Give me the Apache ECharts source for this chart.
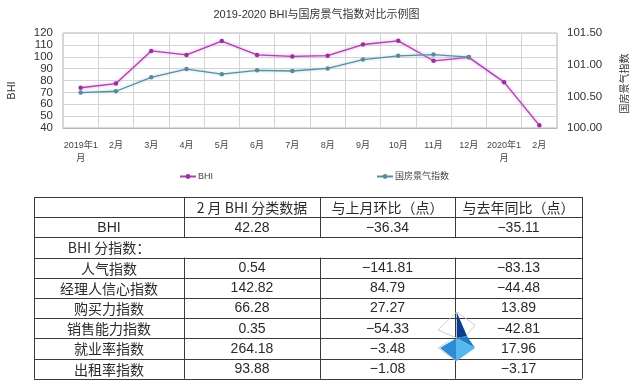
<!DOCTYPE html>
<html>
<head>
<meta charset="utf-8">
<script src="https://cdn.jsdelivr.net/npm/echarts@6/dist/echarts.min.js"></script>
<style>
html,body{margin:0;padding:0;background:#fff;}
#main{width:633px;height:383px;}
</style>
</head>
<body>
<div id="main"></div>
<script>
// ---- chart data ----
var titleText = '2019-2020 BHI与国房景气指数对比示例图';
var categories = ['2019年1月','2月','3月','4月','5月','6月','7月','8月','9月','10月','11月','12月','2020年1月','2月'];
var bhiValues = [73.9, 77.39, 104.9, 101.5, 113.2, 101.5, 100.3, 100.9, 110.3, 113.4, 96.6, 99.5, 78.62, 42.28];
var guofangValues = [100.56, 100.58, 100.80, 100.93, 100.85, 100.91, 100.90, 100.94, 101.08, 101.14, 101.16, 101.12, null, null];
var leftTicks = {min: 40, max: 120, interval: 10};
var rightTicks = {min: 100, max: 101.5, interval: 0.5};

// ---- table data ----
var tableHeader = ['', '2 月 BHI 分类数据', '与上月环比（点）', '与去年同比（点）'];
var rowLabels = ['BHI', 'BHI 分指数：', '人气指数', '经理人信心指数', '购买力指数', '销售能力指数', '就业率指数', '出租率指数'];
var febValues = [42.28, null, 0.54, 142.82, 66.28, 0.35, 264.18, 93.88];
var momValues = [-36.34, null, -141.81, 84.79, 27.27, -54.33, -3.48, -1.08];
var yoyValues = [-35.11, null, -83.13, -44.48, 13.89, -42.81, 17.96, -3.17];

// ---- table layout ----
var colX = [34, 184, 320, 455, 582];
var tableTop = 197;
var rowH = 20.2;
var lineColor = '#3a3a3a';
var textColor = '#2a2a2a';
var cjkFont = '"Noto Sans CJK SC", sans-serif';
var numFont = '"Liberation Sans", Arial, sans-serif';

function fmt(v) {
  if (v === null || v === undefined) return '';
  var s = Math.abs(v).toFixed(2);
  return (v < 0 ? '\u2212' : '') + s;
}
function px(v) { return Math.round(v) + 0.5; }

var graphics = [];
var nRows = rowLabels.length + 1;
var tableBottom = tableTop + nRows * rowH;
for (var r = 0; r <= nRows; r++) {
  var y = px(tableTop + r * rowH);
  graphics.push({type: 'line', silent: true, shape: {x1: colX[0], y1: y, x2: colX[colX.length - 1], y2: y}, style: {stroke: lineColor, lineWidth: 1}});
}
for (var c = 0; c < colX.length; c++) {
  var x = px(colX[c]);
  if (c === 0 || c === colX.length - 1) {
    graphics.push({type: 'line', silent: true, shape: {x1: x, y1: tableTop, x2: x, y2: tableBottom}, style: {stroke: lineColor, lineWidth: 1}});
  } else {
    graphics.push({type: 'line', silent: true, shape: {x1: x, y1: tableTop, x2: x, y2: tableTop + 2 * rowH}, style: {stroke: lineColor, lineWidth: 1}});
    graphics.push({type: 'line', silent: true, shape: {x1: x, y1: tableTop + 3 * rowH, x2: x, y2: tableBottom}, style: {stroke: lineColor, lineWidth: 1}});
  }
}
function cellText(text, col, row, font) {
  var cx = (colX[col] + colX[col + 1]) / 2;
  var cy = tableTop + row * rowH + rowH / 2 + 0.5;
  graphics.push({type: 'text', silent: true, style: {text: text, x: cx, y: cy, textAlign: 'center', textVerticalAlign: 'middle', align: 'center', verticalAlign: 'middle', fill: textColor, font: font}});
}
for (var h = 1; h < tableHeader.length; h++) cellText(tableHeader[h], h, 0, '14px ' + cjkFont);
for (var i = 0; i < rowLabels.length; i++) {
  var isAscii = /^[A-Za-z]+$/.test(rowLabels[i]);
  cellText(rowLabels[i], 0, i + 1, (isAscii ? '14px ' + numFont : '14px ' + cjkFont));
  if (febValues[i] !== null) {
    cellText(fmt(febValues[i]), 1, i + 1, '14px ' + numFont);
    cellText(fmt(momValues[i]), 2, i + 1, '14px ' + numFont);
    cellText(fmt(yoyValues[i]), 3, i + 1, '14px ' + numFont);
  }
}
// decorative watermark logo
graphics.push({type: 'polyline', silent: true, shape: {points: [[456.7, 312], [438, 330], [456.7, 338]]}, style: {stroke: '#d0d0d0', lineWidth: 1, fill: null}});
graphics.push({type: 'polyline', silent: true, shape: {points: [[456.7, 312], [475, 325], [467, 335]]}, style: {stroke: '#d0d0d0', lineWidth: 1, fill: null}});
graphics.push({type: 'polyline', silent: true, shape: {points: [[449, 341], [438, 348], [456.7, 361]]}, style: {stroke: '#d0d0d0', lineWidth: 1, fill: null}});
graphics.push({type: 'polygon', silent: true, shape: {points: [[456.7, 312], [467, 336], [456.7, 338]]}, style: {fill: '#0b3d8c'}});
graphics.push({type: 'polygon', silent: true, shape: {points: [[456.7, 338], [467, 336], [475, 348]]}, style: {fill: '#1f7cc6'}});
graphics.push({type: 'polygon', silent: true, shape: {points: [[440, 348], [456.7, 338], [456.7, 361]]}, style: {fill: '#2a8dd6'}});
graphics.push({type: 'polygon', silent: true, shape: {points: [[456.7, 338], [475, 348], [456.7, 361]]}, style: {fill: '#56b9ee'}});

var chartFont = '"Liberation Sans", Arial, "Noto Sans CJK SC", sans-serif';
var chart = echarts.init(document.getElementById('main'), null, {renderer: 'canvas'});
chart.setOption({
  backgroundColor: '#ffffff',
  animation: false,
  textStyle: {fontFamily: chartFont},
  title: {
    text: titleText, left: 'center', top: 4,
    textStyle: {fontSize: 11, fontWeight: 'normal', color: '#333', fontFamily: chartFont}
  },
  legend: [
    {data: ['BHI'], left: 174, top: 167, itemWidth: 16, itemHeight: 6, itemGap: 4,
     textStyle: {fontSize: 9, color: '#444', padding: [0, 0, 0, -3]}},
    {data: ['国房景气指数'], left: 371, top: 167, itemWidth: 16, itemHeight: 6, itemGap: 4,
     textStyle: {fontSize: 9, color: '#444', padding: [0, 0, 0, -3]}}
  ],
  grid: {left: 63, right: 76, top: 33, bottom: 255, show: true, borderColor: '#b5b5b5', borderWidth: 1, containLabel: false, outerBoundsMode: 'none'},
  xAxis: {
    type: 'category', data: categories, boundaryGap: true,
    axisLine: {lineStyle: {color: '#b5b5b5'}},
    axisTick: {show: false},
    splitLine: {show: true, interval: 0, lineStyle: {color: '#d4d4d4', width: 1}},
    axisLabel: {
      interval: 0, fontSize: 9, color: '#444', margin: 11, lineHeight: 13,
      formatter: function (v) { return v.length > 4 ? v.slice(0, -1) + '\n' + v.slice(-1) : v; }
    }
  },
  yAxis: [
    {
      type: 'value', min: leftTicks.min, max: leftTicks.max, interval: leftTicks.interval,
      name: 'BHI', nameLocation: 'middle', nameGap: 46, nameRotate: 90,
      nameTextStyle: {fontSize: 11, color: '#333', padding: [0, 20, 0, 0]},
      axisLine: {show: false}, axisTick: {show: false},
      axisLabel: {fontSize: 11.5, color: '#333', margin: 10},
      splitLine: {show: true, lineStyle: {color: '#d4d4d4', width: 1}}
    },
    {
      type: 'value', min: rightTicks.min, max: rightTicks.max, interval: rightTicks.interval,
      name: '国房景气指数', nameLocation: 'middle', nameGap: 63, nameRotate: 90,
      nameTextStyle: {fontSize: 10, color: '#333', padding: [0, 6, 0, 0]},
      axisLine: {show: false}, axisTick: {show: false},
      axisLabel: {fontSize: 11.5, color: '#333', margin: 10, formatter: function (v) { return v.toFixed(2); }},
      splitLine: {show: false}
    }
  ],
  series: [
    {
      name: 'BHI', type: 'line', yAxisIndex: 0, data: bhiValues,
      symbol: 'circle', symbolSize: 4.5, showSymbol: true,
      itemStyle: {color: '#9a2f9e'},
      lineStyle: {color: '#a347a8', width: 1.3, shadowColor: 'rgba(240,120,240,0.9)', shadowBlur: 3}
    },
    {
      name: '国房景气指数', type: 'line', yAxisIndex: 1, data: guofangValues,
      symbol: 'circle', symbolSize: 4.5, showSymbol: true, connectNulls: false,
      itemStyle: {color: '#5b8a9c'},
      lineStyle: {color: '#5f8c9c', width: 1.3, shadowColor: 'rgba(150,210,230,0.9)', shadowBlur: 3}
    }
  ],
  graphic: {elements: graphics}
});
</script>
</body>
</html>
